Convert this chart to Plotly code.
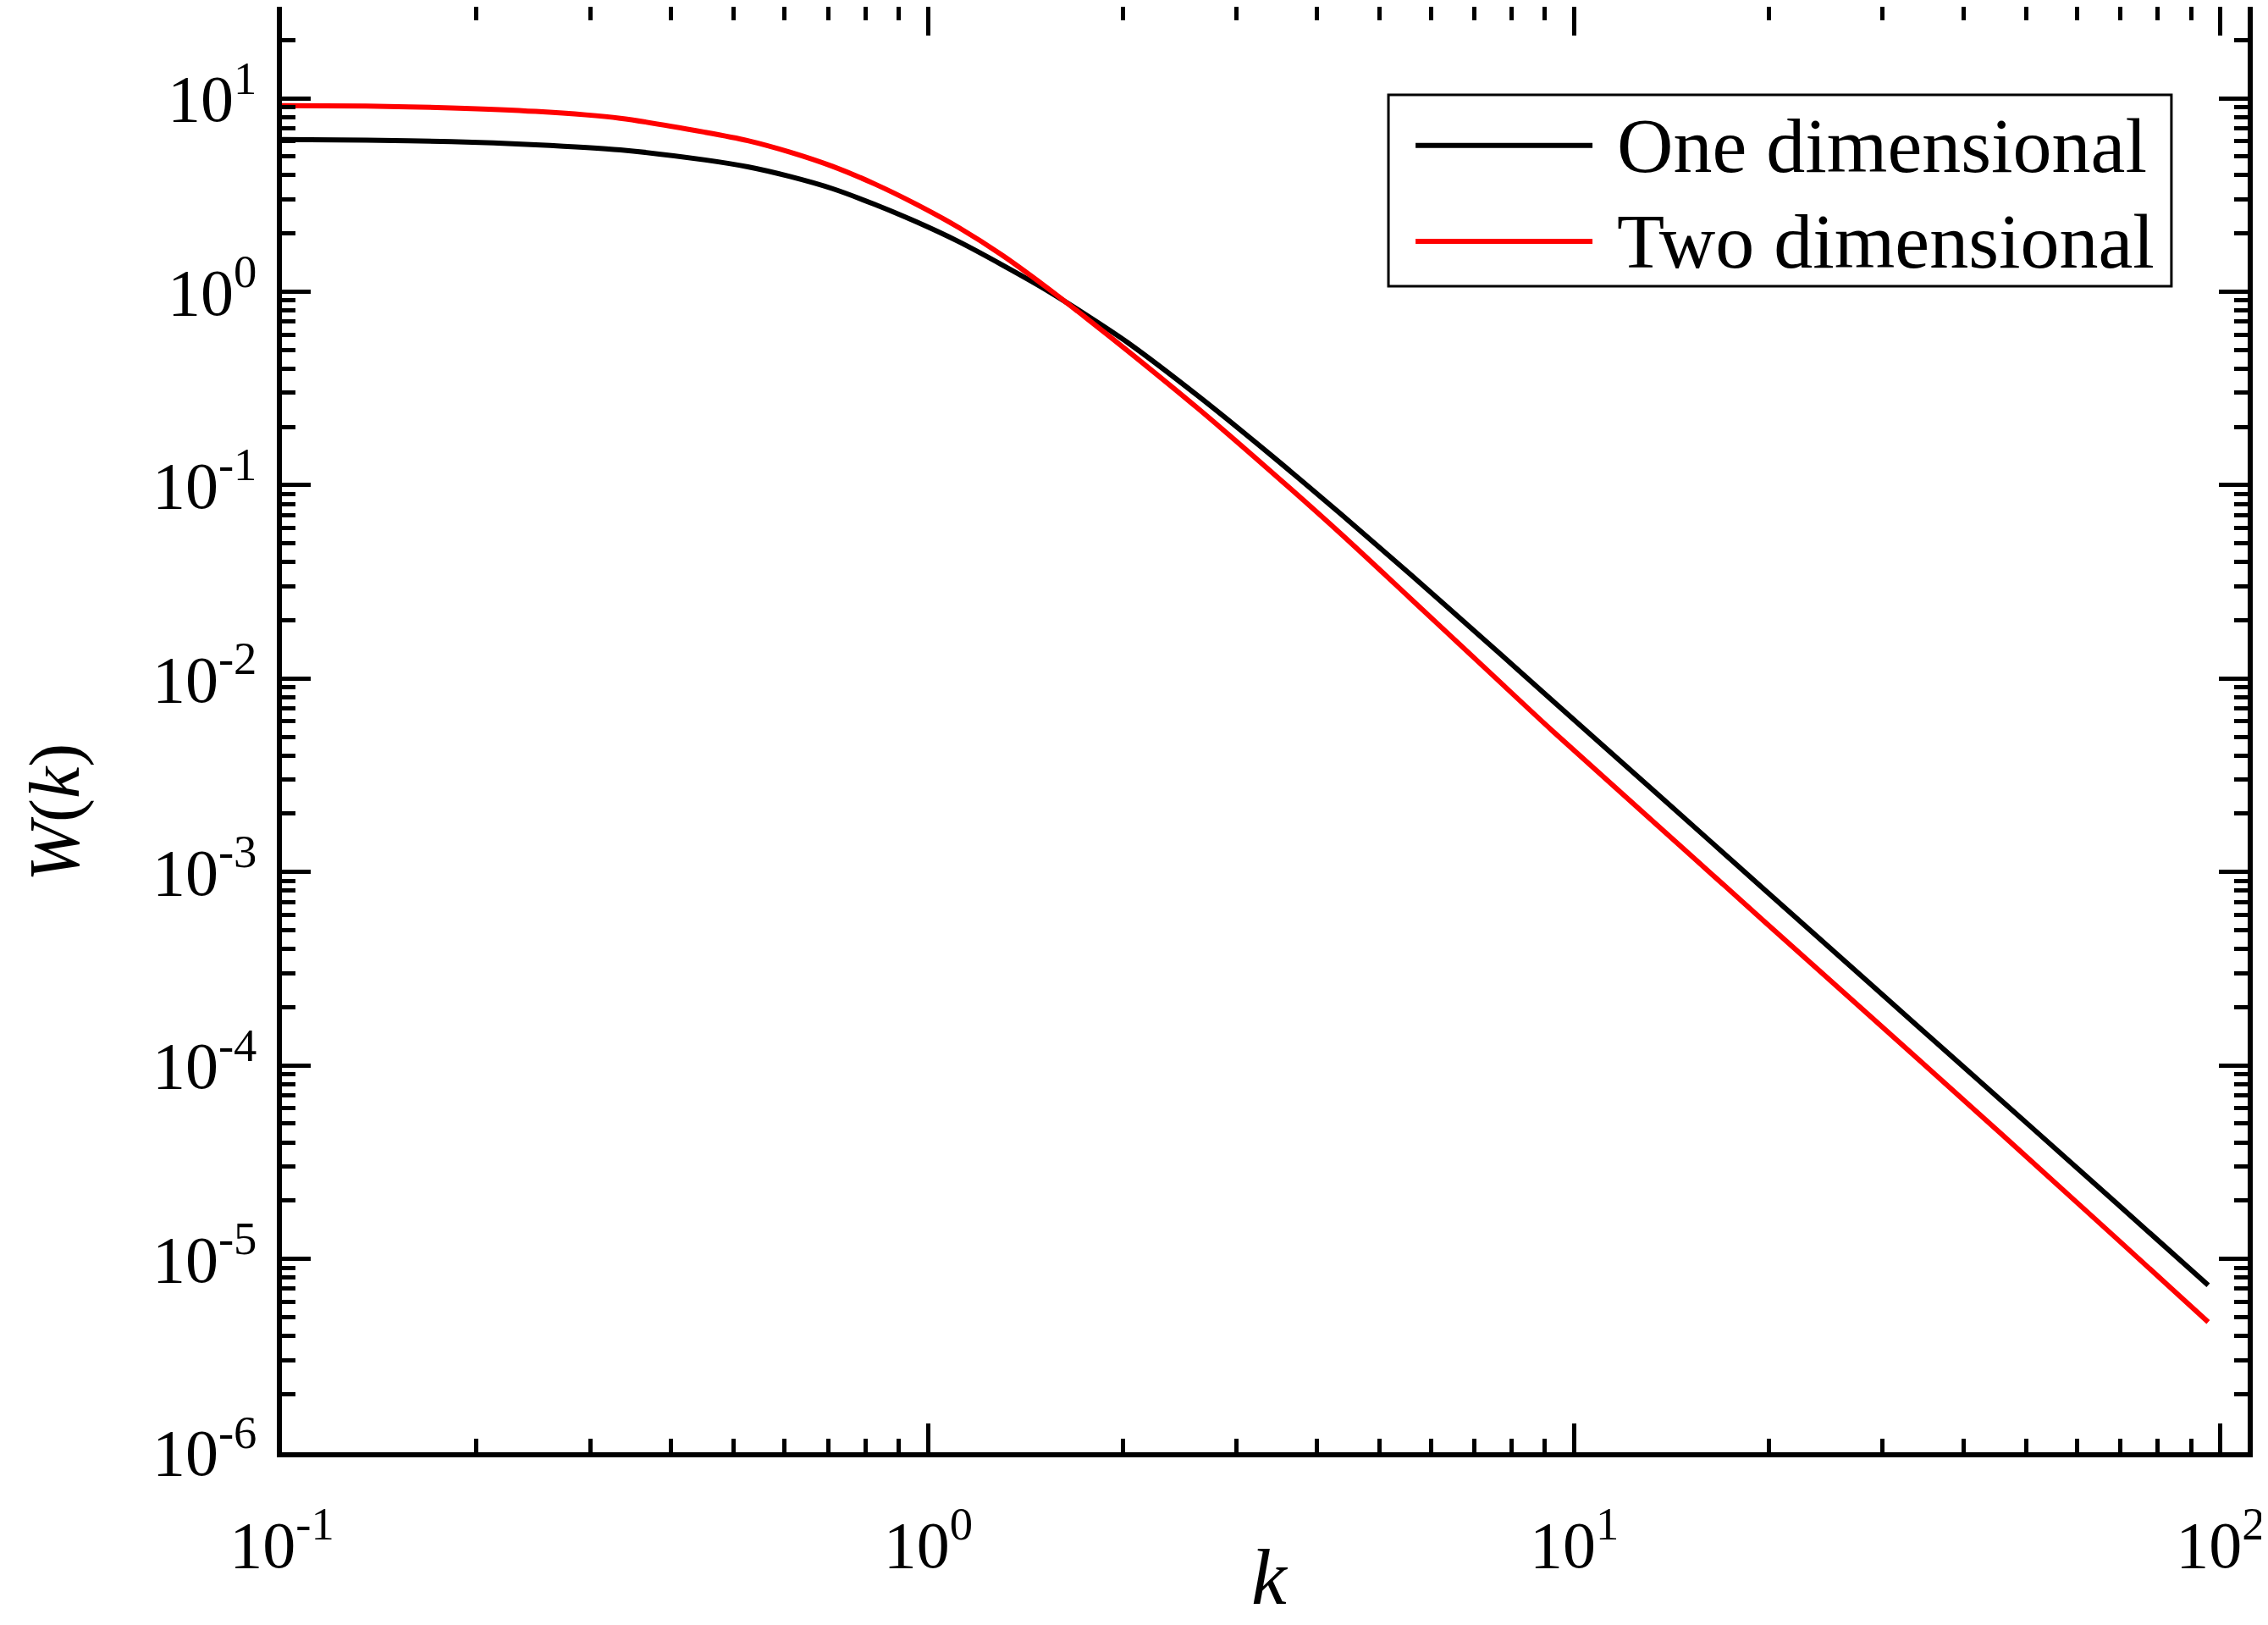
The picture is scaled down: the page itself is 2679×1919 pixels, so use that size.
import plotly.graph_objects as go

# Values
k_values = [0.1, 0.135, 0.183, 0.247, 0.334, 0.452, 0.526, 0.611, 0.711, 0.826, 0.961,
            1.117, 1.30, 1.51, 1.757, 2.04, 2.62, 3.38, 4.34, 5.59, 7.18, 9.23,
            13.46, 19.6, 28.6, 41.7, 51.0, 69.0, 95.7]
w_one_dim = [6.12, 6.08, 5.97, 5.75, 5.41, 4.80, 4.42, 3.94, 3.41, 2.83, 2.29,
             1.81, 1.38, 1.04, 0.757, 0.543, 0.288, 0.1445, 0.0714, 0.0343, 0.01637, 7.74e-3,
             2.52e-3, 8.22e-4, 2.67e-4, 8.69e-5, 4.78e-5, 1.94e-5, 7.31e-6]
w_two_dim = [9.16, 9.11, 8.92, 8.55, 7.88, 6.67, 6.04, 5.27, 4.45, 3.61, 2.82,
             2.14, 1.55, 1.08, 0.731, 0.492, 0.248, 0.1189, 0.0565, 0.02576, 0.0118, 5.40e-3,
             1.738e-3, 5.62e-4, 1.816e-4, 5.86e-5, 3.19e-5, 1.276e-5, 4.71e-6]

series_names = ["One dimensional", "Two dimensional"]
series_colors = ["#000000", "#FF0000"]

x_tick_vals = [0.1, 1, 10, 100]
x_tick_text = ["10<sup>-1</sup>", "10<sup>0</sup>", "10<sup>1</sup>", "10<sup>2</sup>"]
y_tick_vals = [1e-6, 1e-5, 1e-4, 1e-3, 1e-2, 1e-1, 1, 10]
y_tick_text = ["10<sup>-6</sup>", "10<sup>-5</sup>", "10<sup>-4</sup>", "10<sup>-3</sup>",
               "10<sup>-2</sup>", "10<sup>-1</sup>", "10<sup>0</sup>", "10<sup>1</sup>"]

x_minor = [m * 10.0 ** e for e in range(-1, 2) for m in range(2, 10)]
y_minor = [m * 10.0 ** e for e in range(-6, 2) for m in range(2, 10)]

FONT = "Liberation Serif"

fig = go.Figure()
for name, vals, col in zip(series_names, [w_one_dim, w_two_dim], series_colors):
    fig.add_trace(go.Scatter(x=k_values, y=vals, mode="lines", name=name, showlegend=False,
                             line=dict(color=col, width=6, shape="spline", smoothing=0.8)))

axis_common = dict(
    type="log",
    showgrid=False, zeroline=False,
    showline=True, linecolor="black", linewidth=6, mirror="allticks",
    ticks="inside", ticklen=34, tickwidth=5, tickcolor="black",
    tickfont=dict(family=FONT, size=78, color="black"),
)

fig.update_xaxes(
    **axis_common,
    range=[-1, 2.042],
    tickmode="array", tickvals=x_tick_vals, ticktext=x_tick_text,
    ticklabelstandoff=36,
    minor=dict(tickmode="array", tickvals=x_minor, ticks="inside", ticklen=16,
               tickwidth=5, tickcolor="black", showgrid=False),
)
fig.update_yaxes(
    **axis_common,
    range=[-6, 1.473],
    tickmode="array", tickvals=y_tick_vals, ticktext=y_tick_text,
    ticklabelstandoff=8,
    minor=dict(tickmode="array", tickvals=y_minor, ticks="inside", ticklen=16,
               tickwidth=5, tickcolor="black", showgrid=False),
)

# Legend box drawn in paper coordinates (matches the long line samples of the reference)
leg_x0, leg_x1, leg_y0, leg_y1 = 0.5629, 0.9612, 0.8067, 0.9391
sample_x0, sample_x1 = 0.5767, 0.6667
row_y = [0.9040, 0.8377]
text_x = 0.6783

shapes = [dict(type="rect", xref="paper", yref="paper", x0=leg_x0, x1=leg_x1, y0=leg_y0, y1=leg_y1,
               line=dict(color="black", width=3), fillcolor="white", layer="above")]
annotations = []
for name, col, yy in zip(series_names, series_colors, row_y):
    shapes.append(dict(type="line", xref="paper", yref="paper", x0=sample_x0, x1=sample_x1,
                       y0=yy, y1=yy, line=dict(color=col, width=6), layer="above"))
    annotations.append(dict(text=name, xref="paper", yref="paper", x=text_x, y=yy,
                            xanchor="left", yanchor="middle", showarrow=False,
                            font=dict(family=FONT, size=92, color="black")))

# axis titles
annotations.append(dict(text="<i>k</i>", xref="paper", yref="paper", x=0.5026, y=-0.0861,
                        xanchor="center", yanchor="middle", showarrow=False,
                        font=dict(family=FONT, size=94, color="black")))
annotations.append(dict(text="<i>W</i>(<i>k</i>)", xref="paper", yref="paper", x=-0.1154, y=0.4423,
                        xanchor="center", yanchor="middle", showarrow=False, textangle=-90,
                        font=dict(family=FONT, size=84, color="black")))

fig.update_layout(
    width=2671, height=1911,
    margin=dict(l=325, r=24, t=0, b=204, autoexpand=False),
    paper_bgcolor="white", plot_bgcolor="white",
    font=dict(family=FONT, color="black"),
    shapes=shapes, annotations=annotations,
    showlegend=False,
)

fig.write_html("out.html")
